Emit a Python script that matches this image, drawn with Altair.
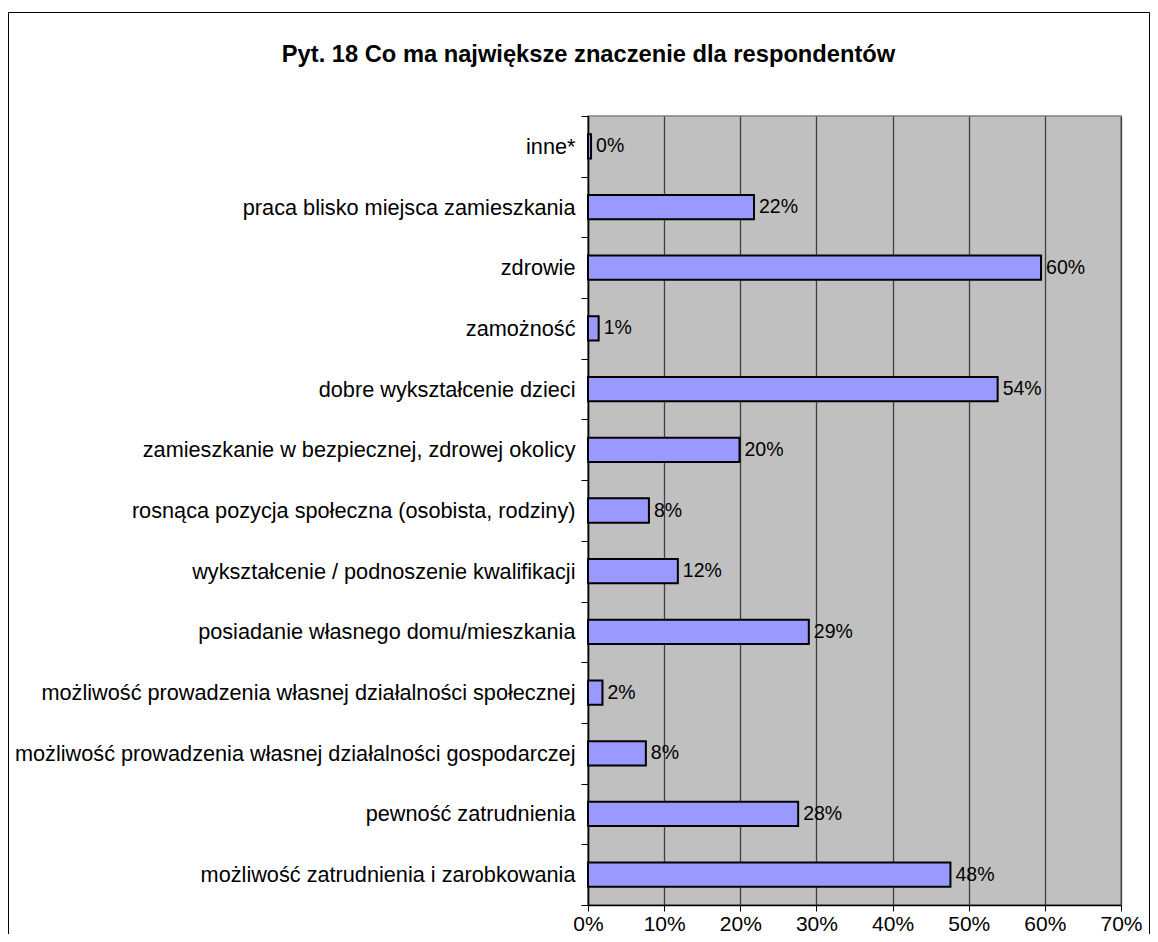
import altair as alt
import pandas as pd

categories = [
    "inne*",
    "praca blisko miejsca zamieszkania",
    "zdrowie",
    "zamożność",
    "dobre wykształcenie dzieci",
    "zamieszkanie w bezpiecznej, zdrowej okolicy",
    "rosnąca pozycja społeczna (osobista, rodziny)",
    "wykształcenie / podnoszenie kwalifikacji",
    "posiadanie własnego domu/mieszkania",
    "możliwość prowadzenia własnej działalności społecznej",
    "możliwość prowadzenia własnej działalności gospodarczej",
    "pewność zatrudnienia\u00a0",
    "możliwość zatrudnienia i zarobkowania",
]
values = [0.4, 21.8, 59.5, 1.4, 53.8, 19.9, 8.0, 11.8, 29.0, 1.9, 7.6, 27.6, 47.6]
labels = ["0%", "22%", "60%", "1%", "54%", "20%", "8%", "12%", "29%", "2%", "8%", "28%", "48%"]
x_ticks = [0, 10, 20, 30, 40, 50, 60, 70]
title_text = "Pyt. 18 Co ma największe znaczenie dla respondentów"

df = pd.DataFrame({"cat": categories, "val": values, "lab": labels})

FONT = "Liberation Sans"

y_enc = alt.Y(
    "cat:N",
    sort=categories,
    scale=alt.Scale(paddingInner=0, paddingOuter=0),
    axis=alt.Axis(
        title=None,
        labelFontSize=21.7,
        labelColor="black",
        labelFont=FONT,
        labelLimit=0,
        labelPadding=6,
        tickBand="extent",
        tickSize=7,
        tickColor="black",
        tickWidth=1,
        domainColor="black",
        domainWidth=1.5,
        grid=False,
    ),
)
x_enc = alt.X(
    "val:Q",
    scale=alt.Scale(domain=[0, 70], nice=False),
    axis=alt.Axis(
        title=None,
        values=x_ticks,
        labelExpr="datum.value + '%'",
        labelFlush=False,
        labelFontSize=21,
        labelColor="black",
        labelFont=FONT,
        labelPadding=2,
        grid=True,
        gridColor="#404040",
        gridWidth=1.3,
        tickSize=6,
        tickColor="black",
        domainColor="black",
        domainWidth=1.5,
    ),
)

frame = alt.Chart(pd.DataFrame({"f": [0]})).mark_rect(
    fill="transparent", stroke="black", strokeWidth=1
).encode(
    x=alt.value(-579.5), x2=alt.value(561.5), y=alt.value(-103.5), y2=alt.value(900)
)

bars = alt.Chart(df).mark_bar(
    color="#9999FF", stroke="black", strokeWidth=2, height=alt.RelativeBandSize(0.4)
).encode(x=x_enc, y=y_enc)

text = alt.Chart(df).mark_text(
    align="left", baseline="middle", dx=5, fontSize=19.5, font=FONT, color="black"
).encode(x=alt.X("val:Q"), y=alt.Y("cat:N", sort=categories), text="lab:N")

chart = alt.layer(frame, bars, text).properties(
    width=533,
    height=789,
    title=alt.TitleParams(
        title_text,
        font=FONT,
        fontSize=23.7,
        fontWeight="bold",
        color="black",
        anchor="middle",
        frame="group",
        baseline="alphabetic",
        dx=-266,
        offset=-74,
    ),
    autosize=alt.AutoSizeParams(type="none"),
    padding={"left": 580, "top": 108, "right": 29, "bottom": 29},
).configure(font=FONT).configure_view(
    fill="#C0C0C0", stroke="#808080", strokeWidth=1.5
)

chart.save("out.html", embed_options={"renderer": "svg", "actions": False})
